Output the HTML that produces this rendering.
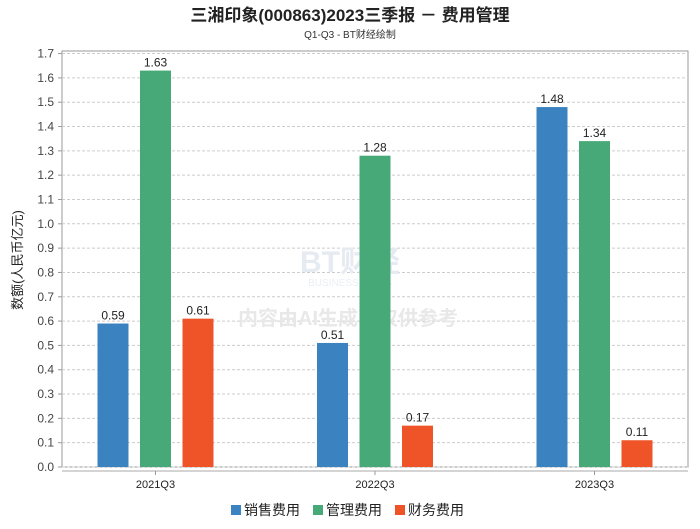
<!DOCTYPE html>
<html><head><meta charset="utf-8"><style>
body{margin:0;background:#fff;font-family:"Liberation Sans","Noto Sans CJK SC",sans-serif}
</style></head><body>
<svg id="c" width="700" height="524" xmlns="http://www.w3.org/2000/svg">
<text x="350" y="21" text-anchor="middle" font-size="17" font-weight="bold" fill="#222">三湘印象(000863)2023三季报 － 费用管理</text>
<text x="350" y="38" text-anchor="middle" font-size="10" fill="#333">Q1-Q3 - BT财经绘制</text>
<text transform="translate(22,260) rotate(-90)" text-anchor="middle" font-size="13" fill="#222">数额(人民币亿元)</text>
<g id="grid"></g>
<text x="350" y="272" text-anchor="middle" font-size="30" font-weight="bold" fill="#e6ebf2">BT财经</text>
<text x="350" y="286" text-anchor="middle" font-size="10" fill="#eceff4">BUSINESS TIMES</text>
<text x="348" y="325" text-anchor="middle" font-size="20" font-weight="bold" fill="#e8e8e8">内容由AI生成，仅供参考</text>
<g id="bars"></g>
</svg>
<script>
const categories=["2021Q3","2022Q3","2023Q3"];
const seriesNames=["销售费用","管理费用","财务费用"];
const sales=[0.59,0.51,1.48];
const admin=[1.63,1.28,1.34];
const finance=[0.61,0.17,0.11];
const yTicks=[0,0.1,0.2,0.3,0.4,0.5,0.6,0.7,0.8,0.9,1.0,1.1,1.2,1.3,1.4,1.5,1.6,1.7];
const colors=["#3a82c0","#46a977","#ee5427"];
const NS="http://www.w3.org/2000/svg";
const L=62,R=688,T=51,B=467;
function y(v){return B-v*243.2;}
function xc(i){return 155.5+i*219.5;}
const svg=document.getElementById('c');
const grid=document.getElementById('grid');
const bars=document.getElementById('bars');
function mk(tag,attrs,parent){const e=document.createElementNS(NS,tag);for(const k in attrs)e.setAttribute(k,attrs[k]);parent.appendChild(e);return e;}
const frame=mk('rect',{x:L,y:T,width:R-L,height:B-T,fill:'none',stroke:'#999','stroke-width':1},grid);


yTicks.forEach(t=>{
 const g=mk('line',{x1:L,x2:R,y1:y(t),y2:y(t),stroke:'#ccc','stroke-dasharray':'3,2'},grid);
 
 
 mk('line',{x1:L-4,x2:L,y1:y(t),y2:y(t),stroke:'#999'},grid);
 const tx=mk('text',{x:L-8,y:y(t)+4,'text-anchor':'end','font-size':12,fill:'#444'},grid);
 tx.textContent=t.toFixed(1);
 
 
});
mk('line',{x1:L,x2:R,y1:B+4,y2:B+4,stroke:'#aaa'},grid);
const series=[sales,admin,finance];
categories.forEach((c,i)=>{
 mk('line',{x1:xc(i),x2:xc(i),y1:B+4,y2:B+8,stroke:'#999'},grid);
 const tx=mk('text',{x:xc(i),y:B+21,'text-anchor':'middle','font-size':11,fill:'#222'},grid);
 tx.textContent=c;
 
 
 series.forEach((s,j)=>{
  const cx=xc(i)+(j-1)*42.5;
  const r=mk('rect',{x:cx-15.5,y:y(s[i]),width:31,height:B-y(s[i]),fill:colors[j]},bars);
  
  
  const lb=mk('text',{x:cx,y:y(s[i])-4,'text-anchor':'middle','font-size':12,fill:'#222'},bars);
  lb.textContent=s[i].toFixed(2);
  
  
 });
});
let lx=231;
seriesNames.forEach((n,j)=>{
 const sw=mk('rect',{x:lx,y:505,width:10,height:10,fill:colors[j]},svg);
 
 
 const t=mk('text',{x:lx+13,y:515,'font-size':14,fill:'#222'},svg);
 t.textContent=n;
 
 
 lx+=82;
});
</script>
</body></html>
